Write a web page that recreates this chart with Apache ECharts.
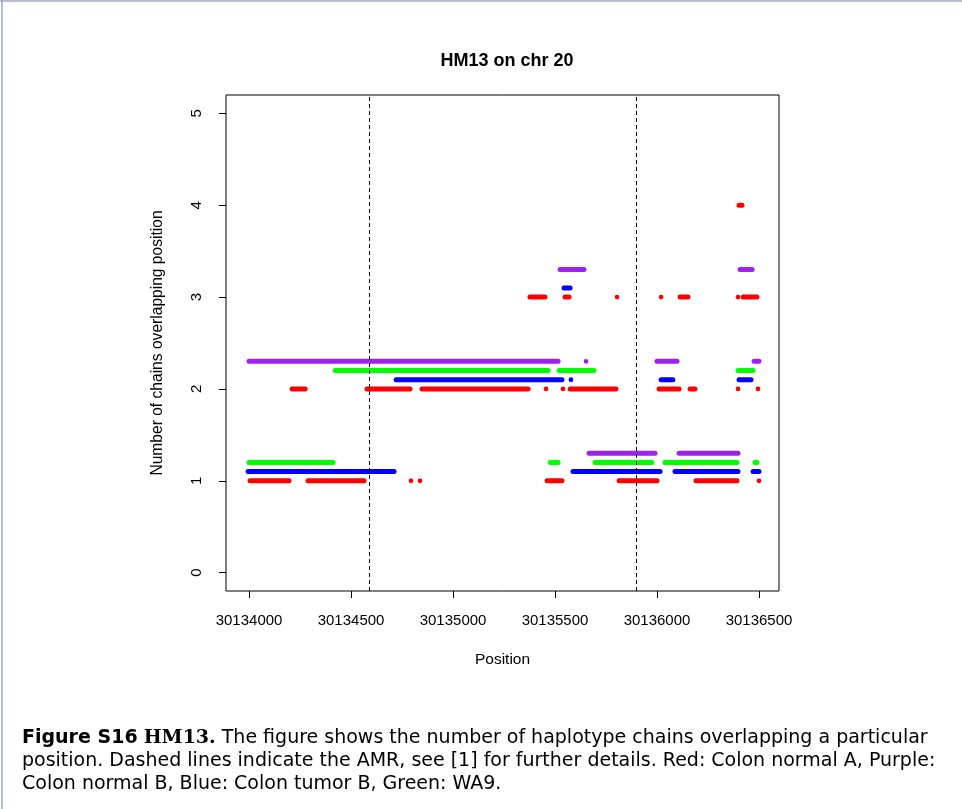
<!DOCTYPE html>
<html><head><meta charset="utf-8">
<script src="https://cdn.jsdelivr.net/npm/echarts@6/dist/echarts.min.js"></script>
<style>html,body{margin:0;padding:0;background:#fff;}#c{width:962px;height:809px;}</style>
</head><body><div id="c"></div>
<script>
// Segments: [start position, end position, y level]; start==end => single point
const redColonNormalA = [
  [30134005,30134196,1.0],[30134289,30134564,1.0],[30134794,30134794,1.0],[30134838,30134838,1.0],
  [30135461,30135534,1.0],[30135814,30136000,1.0],[30136191,30136392,1.0],[30136500,30136500,1.0],
  [30134211,30134275,2.0],[30134578,30134789,2.0],[30134848,30135368,2.0],[30135456,30135456,2.0],
  [30135539,30135539,2.0],[30135574,30135799,2.0],[30136010,30136108,2.0],[30136162,30136186,2.0],
  [30136397,30136397,2.0],[30136495,30136495,2.0],
  [30135377,30135451,3.0],[30135549,30135569,3.0],[30135804,30135804,3.0],[30136020,30136020,3.0],
  [30136113,30136152,3.0],[30136397,30136397,3.0],[30136422,30136490,3.0],
  [30136402,30136417,4.0]
];
const purpleColonNormalB = [
  [30134000,30135515,2.3],[30135652,30135652,2.3],[30136000,30136098,2.3],[30136476,30136500,2.3],
  [30135525,30135642,3.3],[30136407,30136466,3.3],
  [30135667,30135990,1.3],[30136108,30136397,1.3]
];
const blueColonTumorB = [
  [30134721,30135534,2.1],[30135578,30135578,2.1],[30136020,30136078,2.1],[30136402,30136461,2.1],
  [30135544,30135574,3.1],
  [30133995,30134711,1.1],[30135588,30136015,1.1],[30136088,30136397,1.1],[30136471,30136500,1.1]
];
const greenWA9 = [
  [30134422,30135466,2.2],[30135520,30135691,2.2],[30136397,30136471,2.2],
  [30134000,30134412,1.2],[30135476,30135515,1.2],[30135696,30135975,1.2],[30136039,30136392,1.2],
  [30136480,30136490,1.2]
];
const amrBounds = [30134590, 30135900];
const xTicks = [30134000,30134500,30135000,30135500,30136000,30136500];
const yTicks = [0,1,2,3,4,5];

function seg(color){
  return function(params, api){
    const a = api.value(0), b = api.value(1), y = api.value(2);
    const s = api.coord([a, y]);
    const e = api.coord([b, y]);
    if (a === b) {
      return {type:'circle', shape:{cx:s[0], cy:s[1], r:2.4}, style:{fill:color}};
    }
    return {type:'line', shape:{x1:s[0], y1:s[1], x2:e[0], y2:e[1]},
      style:{stroke:color, lineWidth:5, lineCap:'round'}};
  };
}
function mkSeries(name, data, color){
  return {type:'custom', name, data, renderItem: seg(color), encode:{x:[0,1], y:2}, silent:true, animation:false};
}
const font = 'Liberation Sans';
const capFont = 'DejaVu Sans';
const chart = echarts.init(document.getElementById('c'), null, {renderer:'canvas'});
const series = [
  mkSeries('Colon normal A', redColonNormalA, '#ff0000'),
  mkSeries('Colon normal B', purpleColonNormalB, '#a020f0'),
  mkSeries('Colon tumor B', blueColonTumorB, '#0000ff'),
  mkSeries('WA9', greenWA9, '#00ff00')
];
series.push({
  type:'line', data:[], silent:true, animation:false,
  markLine:{symbol:'none', silent:true, label:{show:false}, animation:false,
    lineStyle:{color:'#000', type:[4,3], width:1},
    data: amrBounds.map(v => ({xAxis:v}))}
});
chart.setOption({
  animation:false,
  backgroundColor:'#fff',
  title:{text:'HM13 on chr 20', left:502, top:47, textAlign:'center',
    textStyle:{fontFamily:font, fontWeight:'bold', fontSize:18, color:'#000'}},
  grid:{left:226, top:95, width:553, height:496, show:true, borderColor:'#000', borderWidth:1, backgroundColor:'transparent'},
  xAxis:{type:'value', min:30133887, max:30136598,
    name:'Position', nameLocation:'middle', nameGap:61,
    nameTextStyle:{fontFamily:font, fontSize:15.5, color:'#000'},
    splitLine:{show:false}, axisLine:{show:false, onZero:false},
    axisTick:{show:true, inside:false, length:7, customValues:xTicks, lineStyle:{color:'#000'}},
    axisLabel:{customValues:xTicks, margin:22, fontFamily:font, fontSize:15, color:'#000',
      formatter: v => String(v)}},
  yAxis:{type:'value', min:-0.2, max:5.2,
    name:'Number of chains overlapping position', nameLocation:'middle', nameGap:60,
    nameTextStyle:{fontFamily:font, fontSize:15.6, color:'#000'},
    splitLine:{show:false}, axisLine:{show:false, onZero:false},
    axisTick:{show:true, inside:false, length:7, customValues:yTicks, lineStyle:{color:'#000'}},
    axisLabel:{customValues:yTicks, margin:22, rotate:90, fontFamily:font, fontSize:15, color:'#000'}},
  series,
  graphic:[
    {type:'line', shape:{x1:2, y1:0, x2:2, y2:809}, style:{stroke:'#9aaabb', lineWidth:1.5}},
    {type:'line', shape:{x1:0, y1:1, x2:962, y2:1}, style:{stroke:'#9aaabb', lineWidth:1.5}},
    {type:'text', left:22, top:729, style:{
      text:'{b|Figure S16} {s|HM13.} The figure shows the number of haplotype chains overlapping a particular',
      font:'19px "DejaVu Sans"', fill:'#000',
      rich:{b:{fontWeight:'bold', fontFamily:capFont, fontSize:19}, s:{fontWeight:'bold', fontFamily:'DejaVu Serif', fontSize:19}}}},
    {type:'text', left:22, top:752, style:{
      text:'position. Dashed lines indicate the AMR, see [1] for further details. Red: Colon normal A, Purple:',
      font:'19px "DejaVu Sans"', fill:'#000'}},
    {type:'text', left:22, top:775, style:{
      text:'Colon normal B, Blue: Colon tumor B, Green: WA9.',
      font:'19px "DejaVu Sans"', fill:'#000'}}
  ]
});
</script></body></html>
